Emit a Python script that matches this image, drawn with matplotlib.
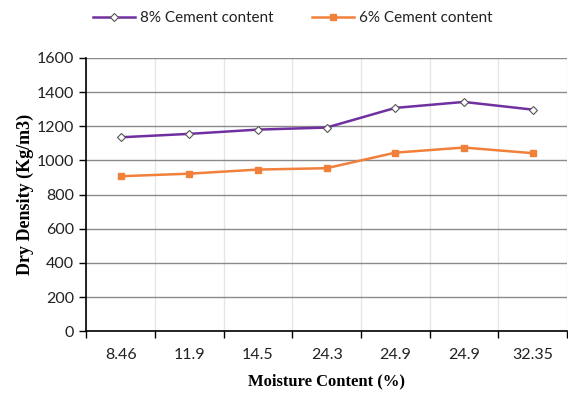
import matplotlib
matplotlib.use("Agg")
import matplotlib.pyplot as plt
import numpy as np

categories = ["8.46", "11.9", "14.5", "24.3", "24.9", "24.9", "32.35"]
cement_8 = [1135, 1155, 1180, 1192, 1307, 1342, 1297]
cement_6 = [907, 922, 946, 954, 1045, 1075, 1042]
yticks = [0, 200, 400, 600, 800, 1000, 1200, 1400, 1600]

tick_font = "Lato"

fig = plt.figure(figsize=(5.68, 3.99), dpi=100)
ax = fig.add_axes([0.152, 0.17, 0.846, 0.685])
x = np.arange(len(categories))

ax.plot(x, cement_8, color="#7030a0", lw=1.8, marker="D", ms=4,
        mfc="white", mec="#555555", mew=0.8, label="8% Cement content", zorder=3)
ax.plot(x, cement_6, color="#f0803a", lw=1.8, marker="s", ms=4.5,
        mfc="#f0803a", mec="#f0803a", label="6% Cement content", zorder=3)

ax.set_xlim(-0.5, len(categories) - 0.5)
ax.set_ylim(0, 1600)
ax.set_yticks(yticks)
ax.set_xticks(x)
ax.set_xticklabels(categories)
ax.set_xticks(np.arange(-0.5, len(categories) - 0.4, 1), minor=True)
ax.tick_params(axis="x", which="major", length=0, pad=12)
ax.tick_params(axis="x", which="minor", length=5, direction="out", width=1)
ax.tick_params(axis="y", length=5, direction="out", width=1, pad=4)
for lab in ax.get_xticklabels() + ax.get_yticklabels():
    lab.set_fontfamily(tick_font)
    lab.set_fontsize(11.5)
    lab.set_color("#222222")

ax.grid(axis="y", color="#8a8a8a", lw=1)
ax.grid(axis="x", which="minor", color="#e6e6e6", lw=1)
ax.set_axisbelow(True)
for s in ["top", "right"]:
    ax.spines[s].set_visible(False)
ax.spines["left"].set_linewidth(1.2)
ax.spines["bottom"].set_linewidth(1.2)

ax.set_xlabel("Moisture Content (%)", family="Liberation Serif", weight="bold",
              fontsize=12, labelpad=8)
ax.set_ylabel("Dry Density (Kg/m3)", family="Liberation Serif", weight="bold",
              fontsize=13, labelpad=2)

leg = fig.legend(loc="center", bbox_to_anchor=(0.515, 0.955), ncol=2, frameon=False,
                 prop={"family": tick_font, "size": 11}, handlelength=2.8,
                 columnspacing=2.5, handletextpad=0.3)
for t in leg.get_texts():
    t.set_color("#222222")

fig.savefig("out.png", dpi=100)
